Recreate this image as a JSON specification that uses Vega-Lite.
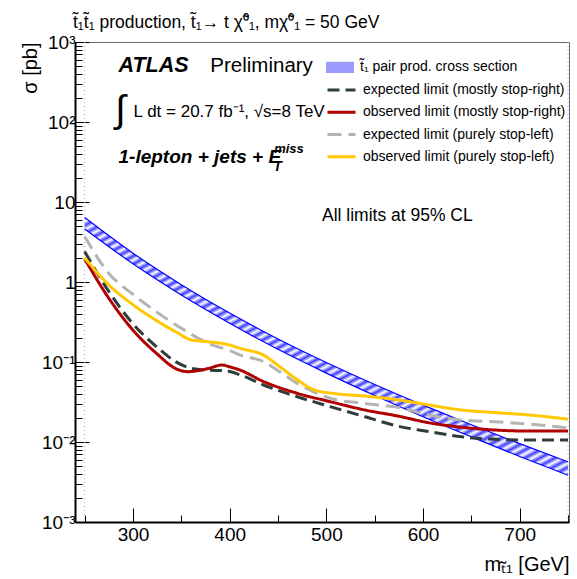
{
  "$schema": "https://vega.github.io/schema/vega-lite/v6.json",
  "width": 494,
  "height": 480,
  "autosize": {"type": "none"},
  "padding": {"left": 75, "top": 42, "right": 8, "bottom": 57},
  "background": "white",
  "config": {"view": {"stroke": "#666666", "strokeWidth": 1}, "font": "Liberation Sans"},
  "title": {"text": "t\u0303\u2081t\u0303\u2081 production, t\u0303\u2081\u2192 t \u03c7\u0303\u2070\u2081, m\u03c7\u0303\u2070\u2081 = 50 GeV", "anchor": "start", "frame": "group", "offset": 14, "dx": -2, "dy": 26, "fontSize": 17.5, "font": "Liberation Sans", "fontWeight": "normal", "color": "black", "baseline": "alphabetic"},
  "datasets": {
    "band": [
      {"m": 250, "lo": 4.6, "hi": 6.4},
      {"m": 300, "lo": 1.69, "hi": 2.29},
      {"m": 350, "lo": 0.688, "hi": 0.926},
      {"m": 400, "lo": 0.305, "hi": 0.409},
      {"m": 450, "lo": 0.144, "hi": 0.194},
      {"m": 500, "lo": 0.0726, "hi": 0.0986},
      {"m": 550, "lo": 0.0381, "hi": 0.0523},
      {"m": 600, "lo": 0.0207, "hi": 0.0289},
      {"m": 650, "lo": 0.0116, "hi": 0.0164},
      {"m": 700, "lo": 0.0066, "hi": 0.00954},
      {"m": 750, "lo": 0.00384, "hi": 0.00564}
    ],
    "limits": [
      {"series": "expected limit (mostly stop-right)", "m": 250, "xs": 2.4},
      {"series": "expected limit (mostly stop-right)", "m": 275, "xs": 0.76},
      {"series": "expected limit (mostly stop-right)", "m": 300, "xs": 0.3},
      {"series": "expected limit (mostly stop-right)", "m": 325, "xs": 0.153},
      {"series": "expected limit (mostly stop-right)", "m": 344, "xs": 0.101},
      {"series": "expected limit (mostly stop-right)", "m": 361, "xs": 0.083},
      {"series": "expected limit (mostly stop-right)", "m": 378, "xs": 0.079},
      {"series": "expected limit (mostly stop-right)", "m": 395, "xs": 0.078},
      {"series": "expected limit (mostly stop-right)", "m": 411, "xs": 0.069},
      {"series": "expected limit (mostly stop-right)", "m": 435, "xs": 0.0516},
      {"series": "expected limit (mostly stop-right)", "m": 470, "xs": 0.0368},
      {"series": "expected limit (mostly stop-right)", "m": 504, "xs": 0.0277},
      {"series": "expected limit (mostly stop-right)", "m": 540, "xs": 0.0207},
      {"series": "expected limit (mostly stop-right)", "m": 574, "xs": 0.0158},
      {"series": "expected limit (mostly stop-right)", "m": 606, "xs": 0.0135},
      {"series": "expected limit (mostly stop-right)", "m": 640, "xs": 0.0116},
      {"series": "expected limit (mostly stop-right)", "m": 675, "xs": 0.0108},
      {"series": "expected limit (mostly stop-right)", "m": 709, "xs": 0.0106},
      {"series": "expected limit (mostly stop-right)", "m": 750, "xs": 0.0106},
      {"series": "observed limit (mostly stop-right)", "m": 250, "xs": 1.95},
      {"series": "observed limit (mostly stop-right)", "m": 275, "xs": 0.626},
      {"series": "observed limit (mostly stop-right)", "m": 300, "xs": 0.25},
      {"series": "observed limit (mostly stop-right)", "m": 325, "xs": 0.126},
      {"series": "observed limit (mostly stop-right)", "m": 344, "xs": 0.083},
      {"series": "observed limit (mostly stop-right)", "m": 357, "xs": 0.0757},
      {"series": "observed limit (mostly stop-right)", "m": 378, "xs": 0.083},
      {"series": "observed limit (mostly stop-right)", "m": 392, "xs": 0.0917},
      {"series": "observed limit (mostly stop-right)", "m": 400, "xs": 0.087},
      {"series": "observed limit (mostly stop-right)", "m": 411, "xs": 0.079},
      {"series": "observed limit (mostly stop-right)", "m": 435, "xs": 0.057},
      {"series": "observed limit (mostly stop-right)", "m": 470, "xs": 0.0406},
      {"series": "observed limit (mostly stop-right)", "m": 504, "xs": 0.0319},
      {"series": "observed limit (mostly stop-right)", "m": 540, "xs": 0.0251},
      {"series": "observed limit (mostly stop-right)", "m": 574, "xs": 0.0211},
      {"series": "observed limit (mostly stop-right)", "m": 606, "xs": 0.0174},
      {"series": "observed limit (mostly stop-right)", "m": 640, "xs": 0.0153},
      {"series": "observed limit (mostly stop-right)", "m": 675, "xs": 0.0141},
      {"series": "observed limit (mostly stop-right)", "m": 709, "xs": 0.0137},
      {"series": "observed limit (mostly stop-right)", "m": 750, "xs": 0.0137},
      {"series": "expected limit (purely stop-left)", "m": 250, "xs": 3.7},
      {"series": "expected limit (purely stop-left)", "m": 275, "xs": 1.28},
      {"series": "expected limit (purely stop-left)", "m": 300, "xs": 0.7},
      {"series": "expected limit (purely stop-left)", "m": 325, "xs": 0.417},
      {"series": "expected limit (purely stop-left)", "m": 350, "xs": 0.264},
      {"series": "expected limit (purely stop-left)", "m": 378, "xs": 0.171},
      {"series": "expected limit (purely stop-left)", "m": 400, "xs": 0.139},
      {"series": "expected limit (purely stop-left)", "m": 411, "xs": 0.122},
      {"series": "expected limit (purely stop-left)", "m": 435, "xs": 0.101},
      {"series": "expected limit (purely stop-left)", "m": 450, "xs": 0.078},
      {"series": "expected limit (purely stop-left)", "m": 470, "xs": 0.054},
      {"series": "expected limit (purely stop-left)", "m": 504, "xs": 0.0352},
      {"series": "expected limit (purely stop-left)", "m": 540, "xs": 0.0303},
      {"series": "expected limit (purely stop-left)", "m": 574, "xs": 0.0271},
      {"series": "expected limit (purely stop-left)", "m": 606, "xs": 0.0218},
      {"series": "expected limit (purely stop-left)", "m": 640, "xs": 0.0188},
      {"series": "expected limit (purely stop-left)", "m": 675, "xs": 0.0179},
      {"series": "expected limit (purely stop-left)", "m": 709, "xs": 0.0168},
      {"series": "expected limit (purely stop-left)", "m": 750, "xs": 0.015},
      {"series": "observed limit (purely stop-left)", "m": 250, "xs": 2.0},
      {"series": "observed limit (purely stop-left)", "m": 275, "xs": 0.92},
      {"series": "observed limit (purely stop-left)", "m": 300, "xs": 0.52},
      {"series": "observed limit (purely stop-left)", "m": 325, "xs": 0.326},
      {"series": "observed limit (purely stop-left)", "m": 344, "xs": 0.239},
      {"series": "observed limit (purely stop-left)", "m": 361, "xs": 0.188},
      {"series": "observed limit (purely stop-left)", "m": 378, "xs": 0.179},
      {"series": "observed limit (purely stop-left)", "m": 400, "xs": 0.163},
      {"series": "observed limit (purely stop-left)", "m": 411, "xs": 0.148},
      {"series": "observed limit (purely stop-left)", "m": 435, "xs": 0.122},
      {"series": "observed limit (purely stop-left)", "m": 452, "xs": 0.087},
      {"series": "observed limit (purely stop-left)", "m": 470, "xs": 0.06},
      {"series": "observed limit (purely stop-left)", "m": 487, "xs": 0.045},
      {"series": "observed limit (purely stop-left)", "m": 511, "xs": 0.04},
      {"series": "observed limit (purely stop-left)", "m": 540, "xs": 0.0375},
      {"series": "observed limit (purely stop-left)", "m": 575, "xs": 0.0335},
      {"series": "observed limit (purely stop-left)", "m": 606, "xs": 0.029},
      {"series": "observed limit (purely stop-left)", "m": 640, "xs": 0.0251},
      {"series": "observed limit (purely stop-left)", "m": 675, "xs": 0.0233},
      {"series": "observed limit (purely stop-left)", "m": 709, "xs": 0.0218},
      {"series": "observed limit (purely stop-left)", "m": 750, "xs": 0.0193}
    ],
    "edges": [{"m": 250}, {"m": 750}]
  },
  "layer": [
    {
      "data": {"name": "band"},
      "mark": {"type": "area", "interpolate": "monotone", "fill": {"gradient": "linear", "x1": 0, "y1": 0, "x2": 1, "y2": 1, "stops": [
        {"offset": 0, "color": "#4040ff"}, {"offset": 0.0078, "color": "#ffffff"}, {"offset": 0.0156, "color": "#4040ff"}, {"offset": 0.0234, "color": "#ffffff"},
        {"offset": 0.0313, "color": "#4040ff"}, {"offset": 0.0391, "color": "#ffffff"}, {"offset": 0.0469, "color": "#4040ff"}, {"offset": 0.0547, "color": "#ffffff"},
        {"offset": 0.0625, "color": "#4040ff"}, {"offset": 0.0703, "color": "#ffffff"}, {"offset": 0.0781, "color": "#4040ff"}, {"offset": 0.0859, "color": "#ffffff"},
        {"offset": 0.0938, "color": "#4040ff"}, {"offset": 0.1016, "color": "#ffffff"}, {"offset": 0.1094, "color": "#4040ff"}, {"offset": 0.1172, "color": "#ffffff"},
        {"offset": 0.125, "color": "#4040ff"}, {"offset": 0.1328, "color": "#ffffff"}, {"offset": 0.1406, "color": "#4040ff"}, {"offset": 0.1484, "color": "#ffffff"},
        {"offset": 0.1563, "color": "#4040ff"}, {"offset": 0.1641, "color": "#ffffff"}, {"offset": 0.1719, "color": "#4040ff"}, {"offset": 0.1797, "color": "#ffffff"},
        {"offset": 0.1875, "color": "#4040ff"}, {"offset": 0.1953, "color": "#ffffff"}, {"offset": 0.2031, "color": "#4040ff"}, {"offset": 0.2109, "color": "#ffffff"},
        {"offset": 0.2188, "color": "#4040ff"}, {"offset": 0.2266, "color": "#ffffff"}, {"offset": 0.2344, "color": "#4040ff"}, {"offset": 0.2422, "color": "#ffffff"},
        {"offset": 0.25, "color": "#4040ff"}, {"offset": 0.2578, "color": "#ffffff"}, {"offset": 0.2656, "color": "#4040ff"}, {"offset": 0.2734, "color": "#ffffff"},
        {"offset": 0.2813, "color": "#4040ff"}, {"offset": 0.2891, "color": "#ffffff"}, {"offset": 0.2969, "color": "#4040ff"}, {"offset": 0.3047, "color": "#ffffff"},
        {"offset": 0.3125, "color": "#4040ff"}, {"offset": 0.3203, "color": "#ffffff"}, {"offset": 0.3281, "color": "#4040ff"}, {"offset": 0.3359, "color": "#ffffff"},
        {"offset": 0.3438, "color": "#4040ff"}, {"offset": 0.3516, "color": "#ffffff"}, {"offset": 0.3594, "color": "#4040ff"}, {"offset": 0.3672, "color": "#ffffff"},
        {"offset": 0.375, "color": "#4040ff"}, {"offset": 0.3828, "color": "#ffffff"}, {"offset": 0.3906, "color": "#4040ff"}, {"offset": 0.3984, "color": "#ffffff"},
        {"offset": 0.4063, "color": "#4040ff"}, {"offset": 0.4141, "color": "#ffffff"}, {"offset": 0.4219, "color": "#4040ff"}, {"offset": 0.4297, "color": "#ffffff"},
        {"offset": 0.4375, "color": "#4040ff"}, {"offset": 0.4453, "color": "#ffffff"}, {"offset": 0.4531, "color": "#4040ff"}, {"offset": 0.4609, "color": "#ffffff"},
        {"offset": 0.4688, "color": "#4040ff"}, {"offset": 0.4766, "color": "#ffffff"}, {"offset": 0.4844, "color": "#4040ff"}, {"offset": 0.4922, "color": "#ffffff"},
        {"offset": 0.5, "color": "#4040ff"}, {"offset": 0.5078, "color": "#ffffff"}, {"offset": 0.5156, "color": "#4040ff"}, {"offset": 0.5234, "color": "#ffffff"},
        {"offset": 0.5313, "color": "#4040ff"}, {"offset": 0.5391, "color": "#ffffff"}, {"offset": 0.5469, "color": "#4040ff"}, {"offset": 0.5547, "color": "#ffffff"},
        {"offset": 0.5625, "color": "#4040ff"}, {"offset": 0.5703, "color": "#ffffff"}, {"offset": 0.5781, "color": "#4040ff"}, {"offset": 0.5859, "color": "#ffffff"},
        {"offset": 0.5938, "color": "#4040ff"}, {"offset": 0.6016, "color": "#ffffff"}, {"offset": 0.6094, "color": "#4040ff"}, {"offset": 0.6172, "color": "#ffffff"},
        {"offset": 0.625, "color": "#4040ff"}, {"offset": 0.6328, "color": "#ffffff"}, {"offset": 0.6406, "color": "#4040ff"}, {"offset": 0.6484, "color": "#ffffff"},
        {"offset": 0.6563, "color": "#4040ff"}, {"offset": 0.6641, "color": "#ffffff"}, {"offset": 0.6719, "color": "#4040ff"}, {"offset": 0.6797, "color": "#ffffff"},
        {"offset": 0.6875, "color": "#4040ff"}, {"offset": 0.6953, "color": "#ffffff"}, {"offset": 0.7031, "color": "#4040ff"}, {"offset": 0.7109, "color": "#ffffff"},
        {"offset": 0.7188, "color": "#4040ff"}, {"offset": 0.7266, "color": "#ffffff"}, {"offset": 0.7344, "color": "#4040ff"}, {"offset": 0.7422, "color": "#ffffff"},
        {"offset": 0.75, "color": "#4040ff"}, {"offset": 0.7578, "color": "#ffffff"}, {"offset": 0.7656, "color": "#4040ff"}, {"offset": 0.7734, "color": "#ffffff"},
        {"offset": 0.7813, "color": "#4040ff"}, {"offset": 0.7891, "color": "#ffffff"}, {"offset": 0.7969, "color": "#4040ff"}, {"offset": 0.8047, "color": "#ffffff"},
        {"offset": 0.8125, "color": "#4040ff"}, {"offset": 0.8203, "color": "#ffffff"}, {"offset": 0.8281, "color": "#4040ff"}, {"offset": 0.8359, "color": "#ffffff"},
        {"offset": 0.8438, "color": "#4040ff"}, {"offset": 0.8516, "color": "#ffffff"}, {"offset": 0.8594, "color": "#4040ff"}, {"offset": 0.8672, "color": "#ffffff"},
        {"offset": 0.875, "color": "#4040ff"}, {"offset": 0.8828, "color": "#ffffff"}, {"offset": 0.8906, "color": "#4040ff"}, {"offset": 0.8984, "color": "#ffffff"},
        {"offset": 0.9063, "color": "#4040ff"}, {"offset": 0.9141, "color": "#ffffff"}, {"offset": 0.9219, "color": "#4040ff"}, {"offset": 0.9297, "color": "#ffffff"},
        {"offset": 0.9375, "color": "#4040ff"}, {"offset": 0.9453, "color": "#ffffff"}, {"offset": 0.9531, "color": "#4040ff"}, {"offset": 0.9609, "color": "#ffffff"},
        {"offset": 0.9688, "color": "#4040ff"}, {"offset": 0.9766, "color": "#ffffff"}, {"offset": 0.9844, "color": "#4040ff"}, {"offset": 0.9922, "color": "#ffffff"},
        {"offset": 1, "color": "#4040ff"}
      ]}},
      "encoding": {
        "x": {"field": "m", "type": "quantitative", "scale": {"domain": [240, 751], "nice": false, "zero": false},
          "axis": {"title": "m\u209c\u0303\u2081 [GeV]", "values": [250, 300, 350, 400, 450, 500, 550, 600, 650, 700, 750],
            "labelExpr": "datum.value % 100 == 0 ? datum.label : ''",
            "tickSize": {"condition": {"test": "datum.value % 100 == 0", "value": -14}, "value": -7},
            "tickColor": "black", "tickWidth": 1, "domainColor": "black", "domainWidth": 2, "grid": false,
            "labelFont": "Liberation Sans", "labelFontSize": 19, "labelColor": "black", "labelPadding": 17, "labelOverlap": false, "labelFlush": false,
            "titleFont": "Liberation Sans", "titleFontSize": 20, "titleFontWeight": "normal", "titleColor": "black",
            "titleX": 494, "titleY": 48, "titleAlign": "right", "titleBaseline": "alphabetic"}},
        "y": {"field": "lo", "type": "quantitative", "scale": {"type": "log", "domain": [0.001, 1000], "nice": false},
          "axis": {"title": "\u03c3 [pb]", "values": [0.001, 0.002, 0.003, 0.004, 0.005, 0.006, 0.007, 0.008, 0.009, 0.01, 0.02, 0.03, 0.04, 0.05, 0.06, 0.07, 0.08, 0.09, 0.1, 0.2, 0.3, 0.4, 0.5, 0.6, 0.7, 0.8, 0.9, 1, 2, 3, 4, 5, 6, 7, 8, 9, 10, 20, 30, 40, 50, 60, 70, 80, 90, 100, 200, 300, 400, 500, 600, 700, 800, 900, 1000],
            "labelExpr": "datum.value == 1000 ? '10\u00b3' : datum.value == 100 ? '10\u00b2' : datum.value == 10 ? '10' : datum.value == 1 ? '1' : datum.value == 0.1 ? '10\u207b\u00b9' : datum.value == 0.01 ? '10\u207b\u00b2' : datum.value == 0.001 ? '10\u207b\u00b3' : ''",
            "tickSize": {"condition": {"test": "datum.value == 0.001 || datum.value == 0.01 || datum.value == 0.1 || datum.value == 1 || datum.value == 10 || datum.value == 100 || datum.value == 1000", "value": -14}, "value": -7},
            "tickColor": "black", "tickWidth": 1, "domainColor": "black", "domainWidth": 2, "grid": false,
            "labelFont": "Liberation Sans", "labelFontSize": 19, "labelColor": "black", "labelPadding": 14, "labelOverlap": false, "labelFlush": false,
            "titleFont": "Liberation Sans", "titleFontSize": 20, "titleFontWeight": "normal", "titleColor": "black",
            "titleX": -45, "titleY": 0, "titleAngle": -90, "titleAlign": "right", "titleBaseline": "middle"}},
        "y2": {"field": "hi"}
      }
    },
    {
      "data": {"name": "band"},
      "mark": {"type": "line", "interpolate": "monotone", "color": "#0000ff", "strokeWidth": 1.2},
      "encoding": {"x": {"field": "m", "type": "quantitative"}, "y": {"field": "lo", "type": "quantitative"}}
    },
    {
      "data": {"name": "band"},
      "mark": {"type": "line", "interpolate": "monotone", "color": "#0000ff", "strokeWidth": 1.2},
      "encoding": {"x": {"field": "m", "type": "quantitative"}, "y": {"field": "hi", "type": "quantitative"}}
    },
    {
      "data": {"name": "edges"},
      "mark": {"type": "rule", "color": "#9a9aff", "strokeWidth": 1, "strokeDash": [1, 3]},
      "encoding": {"x": {"field": "m", "type": "quantitative"}}
    },
    {
      "data": {"values": []},
      "mark": {"type": "square", "opacity": 1},
      "encoding": {
        "x": {"field": "m", "type": "quantitative"},
        "y": {"field": "xs", "type": "quantitative"},
        "fill": {"field": "series", "type": "nominal",
          "scale": {"domain": ["t\u0303\u2081 pair prod. cross section"], "range": ["#9c9cff"]},
          "legend": {"orient": "none", "legendX": 258, "legendY": 18.4, "title": null, "padding": 0,
            "labelFont": "Liberation Sans", "labelFontSize": 14, "labelColor": "black", "labelLimit": 400, "labelOffset": 13,
            "symbolSize": 196, "symbolType": "M-2,-0.8H2V0.8H-2Z", "symbolStrokeWidth": 0, "symbolOpacity": 1}}
      }
    },
    {
      "data": {"name": "limits"},
      "mark": {"type": "line", "interpolate": "monotone", "strokeWidth": 3},
      "encoding": {
        "x": {"field": "m", "type": "quantitative"},
        "y": {"field": "xs", "type": "quantitative"},
        "color": {"field": "series", "type": "nominal",
          "scale": {"domain": ["expected limit (mostly stop-right)", "observed limit (mostly stop-right)", "expected limit (purely stop-left)", "observed limit (purely stop-left)"],
                    "range": ["#2f3c3c", "#b00000", "#b4b4b4", "#ffc800"]},
          "legend": {"orient": "none", "legendX": 258, "legendY": 39.6, "title": null, "padding": 0,
            "labelFont": "Liberation Sans", "labelFontSize": 14, "labelColor": "black", "labelLimit": 400, "labelOffset": 13,
            "symbolSize": 196, "symbolType": "M-2,0H2", "symbolStrokeWidth": 3, "rowPadding": 6.2}},
        "strokeDash": {"field": "series", "type": "nominal",
          "scale": {"domain": ["expected limit (mostly stop-right)", "observed limit (mostly stop-right)", "expected limit (purely stop-left)", "observed limit (purely stop-left)"],
                    "range": [[12, 6], [1, 0], [14, 7], [1, 0]]},
          "legend": null}
      }
    },
    {
      "data": {"values": [{}]},
      "mark": {"type": "text", "text": "ATLAS", "font": "Liberation Sans", "fontSize": 21.5, "fontWeight": "bold", "fontStyle": "italic", "align": "left", "baseline": "alphabetic", "color": "black"},
      "encoding": {"x": {"datum": 285}, "y": {"datum": 418}}
    },
    {
      "data": {"values": [{}]},
      "mark": {"type": "text", "text": "Preliminary", "font": "Liberation Sans", "fontSize": 20.5, "align": "left", "baseline": "alphabetic", "color": "black"},
      "encoding": {"x": {"datum": 380}, "y": {"datum": 418}}
    },
    {
      "data": {"values": [{}]},
      "mark": {"type": "text", "text": "\u222b", "font": "Liberation Sans", "fontSize": 38, "align": "center", "baseline": "middle", "color": "black"},
      "encoding": {"x": {"datum": 287}, "y": {"datum": 137}}
    },
    {
      "data": {"values": [{}]},
      "mark": {"type": "text", "text": "L dt = 20.7 fb\u207b\u00b9, \u221as=8 TeV", "font": "Liberation Sans", "fontSize": 17, "align": "left", "baseline": "alphabetic", "color": "black"},
      "encoding": {"x": {"datum": 300.6}, "y": {"datum": 116.5}}
    },
    {
      "data": {"values": [{}]},
      "mark": {"type": "text", "text": "1-lepton + jets + E", "font": "Liberation Sans", "fontSize": 19, "fontWeight": "bold", "fontStyle": "italic", "align": "left", "baseline": "alphabetic", "color": "black"},
      "encoding": {"x": {"datum": 285}, "y": {"datum": 30.5}}
    },
    {
      "data": {"values": [{}]},
      "mark": {"type": "text", "text": "miss", "font": "Liberation Sans", "fontSize": 13, "fontWeight": "bold", "fontStyle": "italic", "align": "left", "baseline": "alphabetic", "color": "black"},
      "encoding": {"x": {"datum": 446}, "y": {"datum": 40.5}}
    },
    {
      "data": {"values": [{}]},
      "mark": {"type": "text", "text": "T", "font": "Liberation Sans", "fontSize": 14, "fontWeight": "bold", "fontStyle": "italic", "align": "left", "baseline": "alphabetic", "color": "black"},
      "encoding": {"x": {"datum": 445.1}, "y": {"datum": 24.4}}
    },
    {
      "data": {"values": [{}]},
      "mark": {"type": "text", "text": "All limits at 95% CL", "font": "Liberation Sans", "fontSize": 17.5, "align": "left", "baseline": "alphabetic", "color": "black"},
      "encoding": {"x": {"datum": 495.5}, "y": {"datum": 5.87}}
    }
  ]
}
